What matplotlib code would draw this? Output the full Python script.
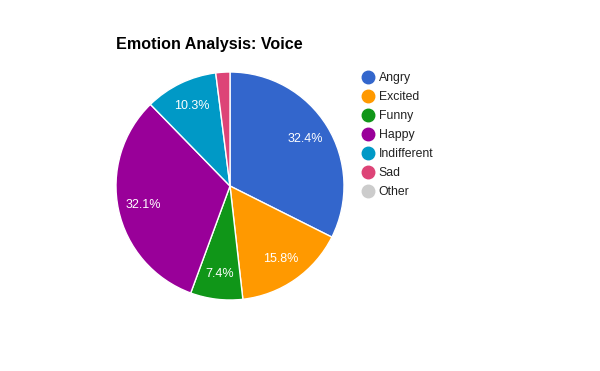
import matplotlib.pyplot as plt
from matplotlib.lines import Line2D

plt.rcParams["font.family"] = ["Liberation Sans", "DejaVu Sans"]

categories = ["Angry", "Excited", "Funny", "Happy", "Indifferent", "Sad", "Other"]
values = [32.4, 15.8, 7.4, 32.1, 10.3, 2.0, 0.0]
colors = ["#3366cc", "#ff9900", "#109618", "#990099", "#0099c6", "#dd4477", "#cccccc"]

W, H = 600, 371
fig = plt.figure(figsize=(W / 100, H / 100), dpi=100)
fig.patch.set_facecolor("white")

# pie centre (230, 186), radius 114 px
cx, cy, r = 230, 186, 114
ax = fig.add_axes([(cx - r) / W, (H - cy - r) / H, 2 * r / W, 2 * r / H])

shown = [(v, c) for v, c in zip(values, colors) if v > 0]
wedges, texts, autotexts = ax.pie(
    [v for v, _ in shown],
    colors=[c for _, c in shown],
    startangle=90,
    counterclock=False,
    radius=1.0,
    autopct=lambda p: f"{p:.1f}%" if p >= 5 else "",
    pctdistance=0.78,
    wedgeprops=dict(edgecolor="white", linewidth=1),
    textprops=dict(color="white", fontsize=9),
)
ax.set_xlim(-1, 1)
ax.set_ylim(-1, 1)
ax.set_aspect("equal")
ax.axis("off")

fig.text(116 / W, 1 - 45 / H, "Emotion Analysis: Voice", fontsize=11.6,
         fontweight="bold", ha="left", va="center", color="#000000")

handles = [
    Line2D([0], [0], marker="o", linestyle="none", markersize=9,
           markerfacecolor=c, markeredgecolor=c)
    for c in colors
]
fig.legend(handles, categories, loc="upper left",
           bbox_to_anchor=(362 / W, 1 - 72 / H), frameon=False,
           fontsize=8.8, labelspacing=0.57, handlelength=0.9,
           handletextpad=0.45, borderaxespad=0, borderpad=0,
           labelcolor="#222222")

fig.savefig("out.png", dpi=100)
